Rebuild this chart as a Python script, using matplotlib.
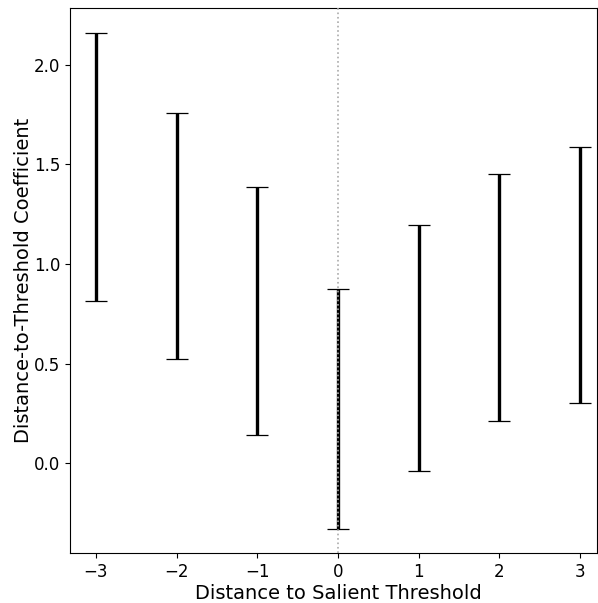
import matplotlib
matplotlib.use("Agg")
import matplotlib.pyplot as plt
import numpy as np

distance = [-3, -2, -1, 0, 1, 2, 3]
upper = [2.16, 1.759, 1.386, 0.873, 1.194, 1.453, 1.589]
lower = [0.813, 0.522, 0.140, -0.331, -0.040, 0.211, 0.301]

x = np.array(distance, dtype=float)
lo = np.array(lower)
hi = np.array(upper)
mid = (lo + hi) / 2

fig = plt.figure(figsize=(5.98, 6.03), dpi=100)
ax = fig.add_axes([70/598, 1 - 553/603, (597-70)/598, (553-8)/603])

ax.errorbar(x, mid, yerr=[mid - lo, hi - mid], fmt='none', ecolor='black',
            elinewidth=2.4, capsize=8, capthick=0.9, zorder=2)
ax.axvline(0, color='#aaaaaa', linestyle=':', linewidth=1.2, zorder=3)

ax.set_xlim(-3.32, 3.21)
ax.set_ylim(-0.452, 2.286)
ax.set_xticks(distance)
ax.set_yticks([0.0, 0.5, 1.0, 1.5, 2.0])
ax.tick_params(labelsize=12)
ax.set_xlabel('Distance to Salient Threshold', fontsize=14, labelpad=2)
ax.xaxis.set_label_coords((338 - 70) / 527, -0.056)
ax.xaxis.label.set_va('top')
ax.set_ylabel('Distance-to-Threshold Coefficient', fontsize=14, labelpad=1)

fig.savefig('out.png', dpi=100)
